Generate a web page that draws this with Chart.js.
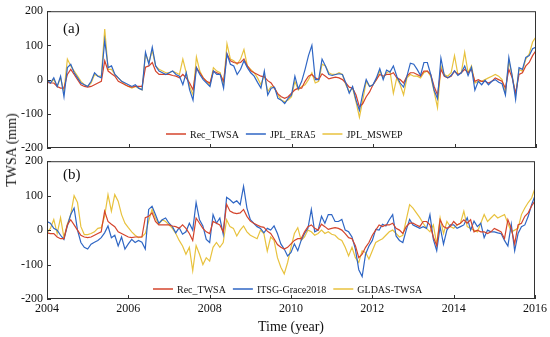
<!DOCTYPE html>
<html lang="en">
<head>
    <meta charset="UTF-8">
    <title>TWSA comparison</title>
    <style>
        body { margin: 0; background: #fff; }
        #page { position: relative; width: 550px; height: 337px; overflow: hidden; font-family: "Liberation Serif", "Times New Roman", serif; color: #111; }
        #chartA { position: absolute; left: 0; top: 0; }
        #chartB { position: absolute; left: 0; top: 150px; }
        .ytitle { position: absolute; left: 12px; top: 150px; transform: translate(-50%, -50%) rotate(-90deg); font-size: 14px; white-space: nowrap; }
        .xtitle { position: absolute; left: 291px; top: 327px; transform: translate(-50%, -50%); font-size: 14px; white-space: nowrap; }
    </style>
</head>
<body>
<div id="page">
    <canvas id="chartA" width="550" height="160"></canvas>
    <canvas id="chartB" width="550" height="187"></canvas>
    <div class="ytitle">TWSA (mm)</div>
    <div class="xtitle">Time (year)</div>
</div>

<script src="https://cdn.jsdelivr.net/npm/chart.js"></script>
<script>
    // monthly time steps, 2004.0 .. 2016.0
    const months = Array.from({ length: 145 }, (_, i) => 2004 + i / 12);
    const xTicks = [2004, 2006, 2008, 2010, 2012, 2014, 2016];
    const yTicks = [-200, -100, 0, 100, 200];

    // Rec_TWSA (same series in both panels)
    const recTwsa = [
        -8, -10, -10, -20, -25, -25, 15, 30, 15, 0, -15, -20,      // 2004
        -22, -20, -15, -10, -5, 55, 25, 17, 10, -5, -10, -15,      // 2005
        -20, -22, -20, -20, -20, 36, 40, 50, 25, 15, 15, 15,       // 2006
        15, 12, 10, 5, 15, 5, -10, -30, 35, 20, 5, -5,             // 2007
        -10, 25, 20, 15, -5, 75, 55, 50, 48, 50, 60, 40,           // 2008
        26, 20, 15, 10, 8, -3, -10, -25, -42, -50, -55, -50,       // 2009
        -40, -30, -25, -25, -5, 10, 15, 5, 0, 17, 10, 2,           // 2010
        5, 7, 5, 0, -10, -22, -25, -45, -80, -70, -50, -36,        // 2011
        -15, 0, 15, 10, 15, 15, 20, 5, 0, -10, 10, 20,             // 2012
        20, 15, 10, 25, 25, 15, -20, -45, 30, 10, 5, 10,           // 2013
        25, 15, 20, 30, 20, 30, -5, 0, -5, -5, -10, -5,            // 2014
        5, 0, -5, -25, 30, 5, -40, 15, 20, 40, 50, 70,             // 2015
        85                                                         // 2016
    ];

    const jplEra5 = [
        0, -10, 5, -20, 10, -50, 35, 45, 20, 5, -10, -15,
        -20, -5, 20, 10, 5, 115, 35, 40, 15, 5, -5, -10,
        -15, -20, -15, -25, -30, 80, 45, 95, 40, 25, 20, 15,
        20, 25, 15, 10, -15, 20, -30, -60, 35, 15, 0, -10,
        -20, 25, 15, 15, -25, 75, 45, 40, 15, 30, 55, 35,
        20, 10, -8, -25, 25, -45, -25, -22, -55, -60, -70, -55,
        -45, 10, -27, -5, 30, 70, 100, 0, 0, 60, 40, 15,
        12, 15, 17, 15, -10, -40, -20, -60, -90, -40, 0, -20,
        -15, 5, 32, 0, 28, 22, 40, 10, -10, -22, 10, 48,
        45, 30, 12, 50, 50, 15, -31, -56, 63, 12, 5, 12,
        26, 12, 20, 40, 12, 36, -31, -5, -15, -2, -15, -5,
        0, -8, -12, -45, 65, 10, -58, 35, 30, 65, 70, 90,
        95
    ];

    const jplMswep = [
        -5, -10, 0, -20, 5, -35, 60, 40, 25, 10, -5, -15,
        -20, -10, 15, 10, 10, 148, 30, 30, 15, 5, -5, -15,
        -20, -25, -20, -25, -30, 75, 50, 85, 40, 30, 25, 20,
        20, 25, 20, 15, 60, 20, -20, -45, 66, 25, 5, -5,
        -15, 35, 25, 20, -15, 105, 60, 55, 45, 60, 88, 40,
        30, 20, 5, -15, 15, -35, -20, -25, -45, -60, -65, -60,
        -50, -5, -30, -20, -15, 0, 20, -10, -5, 45, 40, 20,
        15, 15, 20, 15, -15, -35, -25, -65, -110, -60, -5, -20,
        -15, 0, 25, 5, 20, 25, -40, 5, -15, -45, 5, 15,
        10, 10, 5, 20, 25, 10, -35, -82, 40, 15, 10, 20,
        70, 15, 20, 80, 20, 40, -10, -5, -5, 0, 5, 10,
        15, 10, 0, -40, 55, 10, -45, 30, 25, 60, 75, 110,
        125
    ];

    const itsgGrace = [
        25, 20, 5, 0, -15, -27, 12, 45, 64, 0, -36, -50,
        -55, -41, -35, -30, -22, -8, 12, -22, -15, -46, -20, -55,
        -40, -27, -36, -30, -35, -55, 60, 69, 45, 20, 30, 35,
        20, 10, -8, 7, -12, -5, 20, 0, 80, 30, 12, -27,
        -36, 45, 20, 35, -12, 95, 88, 79, 85, 74, 127, 64,
        30, 20, 10, 5, -8, 5, 0, 12, -10, -40, -55, -75,
        -65, -40, -60, -30, -10, 5, 60, -5, 0, 40, 20, 45,
        45, 25, 25, 31, 0, -5, -20, -55, -115, -135, -70, -46,
        -30, 2, 0, 17, 12, 30, 45, -17, -30, -36, 0, 31,
        15, 10, 5, 10, 5, 45, -27, -60, 10, -41, 0, 15,
        15, 5, 10, 15, 36, 0, 26, 10, 20, -22, 0, -5,
        -5, -8, -10, -30, -46, 17, -60, -10, 10, 15, 40, 74,
        100
    ];

    const gldasTwsa = [
        -8, 5, 31, -10, 36, -22, 17, 45, 100, 80, 10, -13,
        -13, -10, -5, 5, 7, 40, 103, 55, 103, 84, 45, 20,
        7, -5, -15, -22, -20, -10, 26, 60, 35, 17, 30, 25,
        15, 5, -10, -30, -46, -70, -50, -118, -45, -70, -100, -80,
        -90, -50, -36, -50, -36, 30, 10, 5, -17, 0, 12, -5,
        -15, -20, -25, 0, -10, -61, -20, -30, -80, -108, -127, -94,
        -50, -10, 7, -30, -20, 0, -5, -15, -10, 0, -10, -5,
        -12, -15, -25, -30, -50, -75, -50, -80, -94, -60, -65, -84,
        -60, -36, -30, -25, -15, -5, 0, -10, -20, -15, 30, 74,
        64, 50, 36, 20, 5, -5, 15, -41, 36, -10, 25, 10,
        5, 15, 20, 55, 10, 5, 0, -5, 20, 45, 25, 35,
        45, 35, 40, 45, 20, -5, 0, 5, 45, 64, 80, 93,
        122
    ];

    const RED = '#d4442c';
    const BLUE = '#2f66c4';
    const YELLOW = '#e8c23e';
    const FONT = '"Liberation Serif", "Times New Roman", serif';

    function toPoints(values) {
        return values.map((v, i) => ({ x: months[i], y: v }));
    }

    function series(label, values, color, order) {
        return {
            label: label,
            data: toPoints(values),
            borderColor: color,
            backgroundColor: color,
            borderWidth: 1.2,
            pointRadius: 0,
            tension: 0,
            order: order,
            legendOrder: 0
        };
    }

    // frame, inward ticks, panel tag and a legend inside the bottom of the plot
    const panelDecor = {
        id: 'panelDecor',
        afterDraw(chart, args, opts) {
            const { ctx, chartArea: a, scales } = chart;
            ctx.save();
            ctx.strokeStyle = '#333';
            ctx.lineWidth = 1;
            ctx.strokeRect(a.left + 0.5, a.top + 0.5, a.right - a.left - 1, a.bottom - a.top - 1);

            ctx.beginPath();
            xTicks.forEach(t => {
                const px = Math.round(scales.x.getPixelForValue(t)) + 0.5;
                ctx.moveTo(px, a.bottom);
                ctx.lineTo(px, a.bottom - 4);
            });
            yTicks.forEach(t => {
                const py = Math.round(scales.y.getPixelForValue(t)) + 0.5;
                ctx.moveTo(a.left, py);
                ctx.lineTo(a.left + 4, py);
            });
            ctx.stroke();

            ctx.fillStyle = '#111';
            ctx.font = '15px ' + FONT;
            ctx.textBaseline = 'middle';
            ctx.fillText(opts.tag, a.left + 16, a.top + opts.tagDy);

            // legend
            ctx.font = '10px ' + FONT;
            let x = opts.legendX;
            const y = a.bottom - opts.legendDy;
            opts.items.forEach(idx => {
                const ds = chart.data.datasets[idx];
                ctx.strokeStyle = ds.borderColor;
                ctx.lineWidth = 1.5;
                ctx.beginPath();
                ctx.moveTo(x, y);
                ctx.lineTo(x + 20, y);
                ctx.stroke();
                x += 24;
                ctx.fillText(ds.label, x, y + 1);
                x += ctx.measureText(ds.label).width + 7;
            });
            ctx.restore();
        }
    };

    function makeChart(id, datasets, showXLabels, xHeight, topPad, decor) {
        return new Chart(document.getElementById(id), {
            type: 'line',
            data: { datasets: datasets },
            plugins: [panelDecor],
            options: {
                responsive: false,
                animation: false,
                devicePixelRatio: 1,
                layout: { padding: { top: topPad, right: 14, left: 0, bottom: 0 } },
                scales: {
                    x: {
                        type: 'linear',
                        min: 2004,
                        max: 2016,
                        afterBuildTicks: s => { s.ticks = xTicks.map(v => ({ value: v })); },
                        afterFit: s => { s.height = xHeight; },
                        ticks: {
                            display: showXLabels,
                            color: '#111',
                            padding: 3,
                            maxRotation: 0,
                            font: { family: FONT, size: 12 },
                            callback: v => String(v)
                        },
                        grid: { display: false, drawTicks: false },
                        border: { display: false }
                    },
                    y: {
                        min: -200,
                        max: 200,
                        afterBuildTicks: s => { s.ticks = yTicks.map(v => ({ value: v })); },
                        afterFit: s => { s.width = 47; },
                        ticks: {
                            color: '#111',
                            padding: 4,
                            font: { family: FONT, size: 12 },
                            callback: v => String(v)
                        },
                        grid: { display: false, drawTicks: false },
                        border: { display: false }
                    }
                },
                plugins: {
                    legend: { display: false },
                    tooltip: { enabled: false },
                    panelDecor: decor
                }
            }
        });
    }

    makeChart('chartA', [
        series('Rec_TWSA', recTwsa, RED, 2),
        series('JPL_ERA5', jplEra5, BLUE, 1),
        series('JPL_MSWEP', jplMswep, YELLOW, 3)
    ], false, 12, 9, { tag: '(a)', tagDy: 18, legendX: 166, legendDy: 14, items: [0, 1, 2] });

    makeChart('chartB', [
        series('Rec_TWSA', recTwsa, RED, 1),
        series('ITSG-Grace2018', itsgGrace, BLUE, 2),
        series('GLDAS-TWSA', gldasTwsa, YELLOW, 3)
    ], true, 38, 10, { tag: '(b)', tagDy: 14, legendX: 153, legendDy: 10, items: [0, 1, 2] });
</script>
</body>
</html>
